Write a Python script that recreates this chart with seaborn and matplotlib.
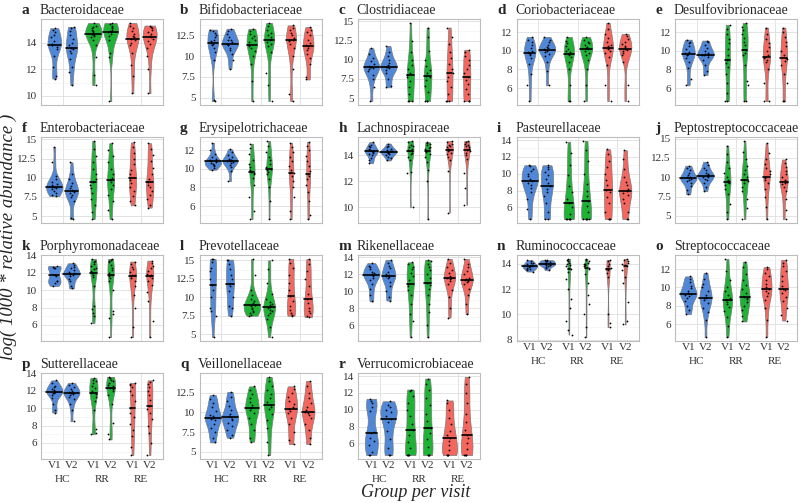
import numpy as np
import pandas as pd
import matplotlib
matplotlib.use("Agg")
import matplotlib.pyplot as plt
from matplotlib.ticker import MultipleLocator, AutoMinorLocator, FuncFormatter
import seaborn as sns

groups = ["HC", "RR", "RE"]
visits = ["V1", "V2"]
group_colors = {"HC": "#4f88d9", "RR": "#1fb336", "RE": "#f5665f"}

letters = list("abcdefghijklmnopqr")
families = ["Bacteroidaceae", "Bifidobacteriaceae", "Clostridiaceae", "Coriobacteriaceae",
            "Desulfovibrionaceae", "Enterobacteriaceae", "Erysipelotrichaceae", "Lachnospiraceae",
            "Pasteurellaceae", "Peptostreptococcaceae", "Porphyromonadaceae", "Prevotellaceae",
            "Rikenellaceae", "Ruminococcaceae", "Streptococcaceae", "Sutterellaceae",
            "Veillonellaceae", "Verrucomicrobiaceae"]
y_steps = [2, 2.5, 2.5, 2, 2, 2.5, 2, 2, 2, 2.5, 2, 2.5, 2, 2, 2, 2, 2.5, 2]

# each panel: HC V1, HC V2, RR V1, RR V2, RE V1, RE V2
bacteroidaceae = [
    [11.3, 11.5, 12.2, 13.0, 13.5, 13.7, 13.8, 13.85, 13.9, 14.1, 14.4, 14.6, 14.8, 15.0, 15.1],
    [10.8, 11.8, 12.2, 12.8, 13.2, 13.4, 13.5, 13.6, 13.8, 14.0, 14.3, 14.6, 14.9, 15.1, 15.2],
    [10.8, 11.6, 12.9, 13.8, 14.2, 14.4, 14.5, 14.6, 14.7, 14.7, 14.8, 14.9, 15.0, 15.1, 15.2, 15.3, 15.5],
    [9.6, 12.9, 13.2, 14.2, 14.5, 14.7, 14.8, 14.85, 14.9, 15.0, 15.1, 15.2, 15.3, 15.4, 15.5],
    [10.2, 11.5, 12.3, 13.2, 13.8, 14.0, 14.2, 14.3, 14.4, 14.5, 14.7, 14.9, 15.1, 15.3, 15.5],
    [10.2, 12.0, 13.0, 13.6, 13.9, 14.1, 14.3, 14.4, 14.5, 14.7, 14.8, 15.0, 15.1, 15.2, 15.3],
]
bifidobacteriaceae = [
    [4.6, 4.7, 9.5, 10.5, 11.0, 11.3, 11.5, 11.6, 11.8, 12.0, 12.3, 12.6, 12.8, 13.0, 13.2],
    [8.5, 9.5, 10.3, 10.8, 11.0, 11.3, 11.4, 11.5, 11.7, 11.9, 12.0, 12.3, 12.7, 13.0, 13.3],
    [4.6, 7.0, 9.0, 10.0, 10.6, 11.0, 11.2, 11.4, 11.7, 12.0, 12.2, 12.4, 12.7, 13.0, 13.3],
    [4.6, 6.5, 8.0, 10.5, 11.2, 11.5, 11.7, 11.9, 12.1, 12.3, 12.5, 12.8, 13.2, 13.6, 14.0],
    [4.6, 5.5, 8.5, 10.0, 11.0, 11.5, 11.8, 11.9, 12.0, 12.2, 12.5, 12.8, 13.1, 13.4, 13.7],
    [7.2, 7.5, 9.0, 9.8, 10.3, 10.8, 11.0, 11.2, 11.4, 11.6, 12.0, 12.5, 12.9, 13.2, 13.5],
]
clostridiaceae = [
    [4.6, 6.5, 7.5, 8.0, 8.5, 8.8, 8.9, 9.0, 9.1, 9.2, 9.5, 9.8, 10.2, 10.8, 11.5],
    [6.4, 6.6, 7.5, 8.2, 8.6, 8.9, 9.0, 9.1, 9.2, 9.3, 9.6, 10.0, 10.5, 11.0, 11.8],
    [4.6, 4.6, 4.6, 5.5, 6.5, 7.2, 7.8, 8.0, 8.3, 8.8, 9.3, 10.0, 11.0, 12.5, 14.8],
    [4.6, 4.6, 4.6, 5.8, 6.6, 7.3, 7.7, 7.9, 8.2, 8.7, 9.2, 10.0, 11.2, 13.0, 14.2],
    [4.6, 4.6, 4.6, 5.5, 6.5, 7.2, 7.8, 8.2, 8.8, 9.5, 10.2, 11.0, 12.0, 13.0, 14.2],
    [4.6, 4.6, 4.6, 5.5, 6.2, 6.8, 7.3, 7.7, 8.2, 8.8, 9.3, 9.9, 10.5, 11.0, 11.3],
]
coriobacteriaceae = [
    [4.6, 6.3, 7.5, 8.6, 9.2, 9.5, 9.7, 9.8, 9.9, 10.0, 10.3, 10.6, 10.9, 11.2, 11.5],
    [6.3, 7.8, 8.8, 9.4, 9.7, 9.9, 10.0, 10.1, 10.2, 10.3, 10.4, 10.6, 10.9, 11.2, 11.5],
    [4.6, 4.6, 6.3, 8.0, 8.8, 9.3, 9.5, 9.7, 9.9, 10.0, 10.2, 10.5, 10.8, 11.1, 11.5],
    [4.6, 6.3, 8.0, 9.0, 9.5, 9.8, 10.0, 10.2, 10.3, 10.4, 10.6, 10.8, 11.0, 11.2, 11.5],
    [4.6, 6.3, 8.5, 9.3, 9.8, 10.0, 10.2, 10.3, 10.5, 10.6, 11.0, 11.4, 11.8, 12.3, 13.0],
    [4.6, 6.3, 8.8, 9.5, 9.8, 10.0, 10.1, 10.2, 10.4, 10.5, 10.7, 11.0, 11.3, 11.6, 11.8],
]
desulfovibrionaceae = [
    [6.3, 7.0, 8.2, 8.8, 9.2, 9.5, 9.6, 9.7, 9.8, 9.9, 10.2, 10.5, 10.8, 11.0, 11.2],
    [7.4, 7.8, 8.5, 9.0, 9.3, 9.5, 9.55, 9.6, 9.7, 9.8, 10.0, 10.3, 10.6, 10.9, 11.1],
    [4.6, 4.6, 5.5, 6.5, 7.5, 8.3, 8.7, 9.0, 9.5, 10.2, 10.8, 11.3, 11.8, 12.3, 12.8],
    [4.6, 4.6, 6.3, 6.8, 8.5, 9.5, 9.8, 10.1, 10.6, 11.0, 11.4, 11.8, 12.2, 12.6, 13.0],
    [4.6, 4.6, 6.5, 8.0, 8.8, 9.0, 9.2, 9.3, 9.6, 10.0, 10.4, 10.8, 11.3, 11.8, 12.5],
    [4.6, 4.6, 6.5, 7.5, 8.5, 8.9, 9.1, 9.2, 9.6, 10.0, 10.5, 11.0, 11.5, 12.0, 12.5],
]
enterobacteriaceae = [
    [7.6, 7.8, 8.0, 8.3, 8.5, 8.7, 8.8, 8.8, 9.0, 9.2, 9.5, 9.8, 10.2, 12.0, 14.0],
    [4.6, 4.7, 7.0, 7.5, 7.8, 8.0, 8.1, 8.2, 8.4, 8.6, 8.9, 9.3, 9.8, 10.5, 12.0],
    [4.6, 5.5, 6.5, 7.2, 8.0, 8.6, 9.0, 9.4, 9.8, 10.5, 11.2, 12.0, 12.8, 13.8, 14.8],
    [4.6, 5.8, 7.0, 7.8, 8.5, 9.0, 9.4, 9.7, 10.0, 10.5, 11.2, 12.0, 12.8, 13.6, 14.5],
    [6.4, 7.0, 7.6, 8.2, 8.8, 9.3, 9.7, 10.0, 10.5, 11.0, 11.8, 12.5, 13.2, 14.0, 14.6],
    [6.1, 6.5, 7.2, 7.8, 8.3, 8.8, 9.1, 9.4, 9.8, 10.5, 11.3, 12.2, 13.0, 13.8, 14.5],
]
erysipelotrichaceae = [
    [9.9, 10.1, 10.3, 10.4, 10.5, 10.6, 10.7, 10.8, 10.8, 10.9, 11.1, 11.3, 11.6, 12.0, 12.8],
    [8.7, 9.8, 10.2, 10.4, 10.6, 10.7, 10.8, 10.85, 10.9, 11.0, 11.1, 11.3, 11.5, 11.8, 12.1],
    [4.6, 5.5, 7.0, 8.3, 9.0, 9.4, 9.6, 9.7, 9.9, 10.2, 10.5, 11.0, 11.6, 12.2, 12.7],
    [4.6, 6.5, 8.0, 8.9, 9.4, 9.7, 9.9, 10.0, 10.2, 10.5, 10.9, 11.3, 11.8, 12.4, 13.0],
    [4.6, 5.5, 7.0, 8.0, 8.7, 9.2, 9.5, 9.6, 9.9, 10.3, 10.8, 11.3, 11.8, 12.3, 12.8],
    [4.6, 5.0, 6.5, 7.5, 8.3, 8.9, 9.2, 9.4, 9.8, 10.3, 10.8, 11.4, 12.0, 12.5, 12.9],
]
lachnospiraceae = [
    [13.4, 13.6, 13.8, 14.0, 14.1, 14.2, 14.25, 14.3, 14.35, 14.4, 14.5, 14.6, 14.7, 14.8, 15.0],
    [13.6, 13.8, 13.9, 14.0, 14.1, 14.2, 14.22, 14.25, 14.3, 14.35, 14.4, 14.5, 14.6, 14.7, 14.9],
    [10.0, 12.6, 12.7, 13.6, 13.9, 14.1, 14.2, 14.3, 14.4, 14.5, 14.6, 14.7, 14.8, 15.0, 15.1],
    [9.1, 12.0, 12.9, 13.5, 13.9, 14.1, 14.25, 14.35, 14.45, 14.55, 14.65, 14.75, 14.85, 14.95, 15.0],
    [9.6, 12.8, 13.6, 13.9, 14.1, 14.2, 14.3, 14.4, 14.5, 14.6, 14.7, 14.8, 14.9, 15.0, 15.1],
    [10.2, 11.5, 12.6, 13.7, 14.0, 14.2, 14.3, 14.4, 14.5, 14.6, 14.7, 14.8, 14.9, 15.0, 15.1],
]
pasteurellaceae = [
    [4.6, 5.8, 7.0, 7.8, 8.3, 8.7, 8.9, 9.1, 9.4, 9.7, 10.0, 10.3, 10.6, 10.9, 11.0],
    [4.6, 4.6, 5.5, 6.5, 7.3, 7.8, 8.2, 8.5, 8.9, 9.4, 9.8, 10.2, 10.5, 10.8, 11.0],
    [4.6, 4.6, 4.6, 4.6, 4.6, 5.2, 6.0, 6.5, 7.0, 7.8, 8.5, 9.8, 11.0, 12.5, 13.8],
    [4.6, 4.6, 4.6, 4.6, 4.6, 5.5, 6.2, 6.8, 7.3, 8.0, 8.8, 10.0, 11.5, 12.8, 13.9],
    [4.6, 4.6, 4.6, 5.5, 6.5, 7.2, 7.8, 8.1, 8.6, 9.3, 10.0, 10.8, 11.5, 12.3, 12.9],
    [4.6, 4.6, 5.5, 6.5, 7.0, 7.5, 7.7, 7.9, 8.2, 8.6, 9.0, 9.6, 10.5, 11.8, 12.8],
]
peptostreptococcaceae = [
    [7.8, 8.3, 8.9, 9.3, 9.5, 9.7, 9.8, 9.9, 10.0, 10.1, 10.3, 10.6, 10.9, 11.2, 11.5],
    [8.2, 8.8, 9.3, 9.6, 9.8, 10.0, 10.1, 10.2, 10.3, 10.4, 10.6, 10.9, 11.2, 11.6, 12.0],
    [4.6, 5.5, 6.6, 7.8, 8.5, 9.0, 9.2, 9.4, 9.7, 10.1, 10.6, 11.2, 12.0, 13.0, 14.1],
    [4.6, 6.0, 7.2, 8.2, 8.8, 9.3, 9.5, 9.7, 10.0, 10.4, 10.9, 11.5, 12.3, 13.3, 14.7],
    [4.6, 6.2, 7.5, 8.5, 9.2, 9.7, 9.9, 10.1, 10.4, 10.8, 11.2, 11.7, 12.3, 13.2, 14.4],
    [4.6, 5.8, 7.2, 8.2, 8.8, 9.1, 9.3, 9.4, 9.7, 10.0, 10.4, 10.8, 11.3, 11.8, 12.3],
]
porphyromonadaceae = [
    [10.5, 10.8, 11.0, 11.1, 11.6, 11.8, 12.5, 12.6, 12.7, 12.8],
    [10.2, 10.5, 11.0, 11.3, 11.6, 11.8, 11.85, 11.9, 12.0, 12.1, 12.3, 12.5, 12.7, 12.9, 13.1],
    [6.2, 7.0, 7.4, 7.8, 8.2, 10.5, 11.5, 11.8, 12.0, 12.2, 12.4, 12.6, 12.8, 13.0, 13.2, 13.4, 13.6],
    [4.6, 6.8, 7.3, 7.6, 10.0, 11.0, 11.4, 11.6, 11.8, 12.0, 12.3, 12.6, 12.9, 13.2, 13.4, 13.5, 13.6],
    [4.6, 5.8, 8.0, 9.5, 10.5, 11.0, 11.4, 11.6, 11.7, 11.8, 12.1, 12.4, 12.7, 13.0, 13.3],
    [4.6, 6.5, 8.7, 9.8, 10.6, 11.1, 11.4, 11.6, 11.7, 11.9, 12.2, 12.5, 12.8, 13.1, 13.4],
]
prevotellaceae = [
    [4.6, 7.5, 8.2, 8.5, 10.0, 11.0, 11.6, 12.5, 13.5, 14.0, 14.8, 15.2, 15.2],
    [7.5, 8.5, 8.8, 10.0, 10.8, 11.5, 11.8, 12.5, 13.0, 13.8, 14.5, 15.0, 15.1],
    [7.5, 7.6, 7.8, 8.0, 8.2, 8.4, 8.6, 8.8, 8.9, 9.0, 9.2, 9.5, 9.8, 10.3, 11.0, 13.0, 15.2],
    [4.6, 6.0, 7.0, 7.6, 7.9, 8.1, 8.3, 8.5, 8.7, 8.9, 9.1, 9.4, 9.8, 10.5, 12.0, 13.8, 15.0],
    [7.5, 7.6, 7.9, 8.3, 8.8, 9.5, 10.2, 11.0, 12.0, 13.0, 14.0, 14.6, 15.2],
    [7.3, 7.5, 7.8, 8.2, 8.6, 9.2, 9.7, 10.5, 11.5, 12.5, 13.5, 14.5, 15.2],
]
rikenellaceae = [
    [8.8, 9.5, 10.3, 10.9, 11.3, 11.6, 11.8, 11.9, 12.0, 12.1, 12.3, 12.6, 12.8, 13.0, 13.3],
    [8.9, 9.3, 10.0, 10.6, 11.1, 11.5, 11.7, 11.8, 11.9, 12.0, 12.3, 12.7, 13.0, 13.3, 13.7],
    [4.6, 6.5, 7.3, 8.5, 9.5, 10.2, 10.6, 10.9, 11.3, 11.8, 12.2, 12.6, 12.9, 13.2, 13.4],
    [4.6, 6.0, 7.5, 8.5, 9.6, 10.3, 10.7, 11.0, 11.5, 12.0, 12.5, 12.9, 13.2, 13.5, 13.7],
    [6.9, 8.0, 9.3, 10.2, 10.8, 11.2, 11.4, 11.5, 11.6, 11.8, 12.1, 12.5, 12.9, 13.3, 13.8],
    [7.3, 8.5, 9.5, 10.3, 10.8, 11.1, 11.2, 11.3, 11.4, 11.6, 12.0, 12.4, 12.8, 13.2, 13.8],
]
ruminococcaceae = [
    [13.4, 13.5, 13.6, 13.6, 13.7, 13.75, 13.8, 13.85, 13.85, 13.9, 14.0, 14.05, 14.1, 14.2, 14.3],
    [13.5, 13.65, 13.75, 13.85, 13.9, 13.95, 13.95, 14.0, 14.05, 14.1, 14.15, 14.2, 14.25, 14.3, 14.3],
    [8.4, 8.8, 9.5, 10.5, 11.2, 12.0, 12.8, 13.4, 13.6, 13.7, 13.8, 13.9, 14.0, 14.1, 14.2, 14.3, 14.4],
    [8.2, 9.0, 10.0, 10.8, 11.5, 12.5, 13.2, 13.6, 13.7, 13.8, 13.9, 14.0, 14.0, 14.1, 14.2, 14.3, 14.4],
    [9.0, 9.3, 10.0, 13.0, 13.3, 13.5, 13.6, 13.6, 13.7, 13.8, 14.0, 14.2, 14.3],
    [9.2, 9.5, 11.0, 12.5, 13.0, 13.5, 13.8, 13.9, 14.0, 14.1, 14.2, 14.3, 14.4],
]
streptococcaceae = [
    [7.1, 7.5, 8.0, 8.5, 8.9, 9.1, 9.2, 9.3, 9.4, 9.6, 9.9, 10.2, 10.6, 10.9, 11.2],
    [4.6, 6.5, 7.3, 7.8, 8.3, 8.6, 8.8, 8.9, 9.0, 9.2, 9.6, 10.0, 10.4, 10.9, 11.6],
    [4.6, 5.8, 6.8, 7.4, 7.9, 8.2, 8.4, 8.6, 8.9, 9.2, 9.6, 10.1, 10.8, 11.8, 13.1],
    [6.3, 6.9, 7.5, 8.0, 8.4, 8.7, 8.9, 9.0, 9.4, 9.8, 10.3, 10.8, 11.5, 12.2, 12.8],
    [4.6, 6.5, 7.8, 8.6, 9.1, 9.4, 9.6, 9.8, 10.1, 10.4, 10.8, 11.2, 11.6, 12.0, 12.2],
    [6.4, 7.0, 7.8, 8.5, 9.0, 9.4, 9.7, 9.85, 10.2, 10.7, 11.2, 11.8, 12.3, 12.7, 13.0],
]
sutterellaceae = [
    [9.5, 9.8, 10.5, 11.2, 11.5, 11.7, 11.8, 11.9, 12.0, 12.1, 12.2, 12.4, 12.6, 12.9, 13.2],
    [8.5, 9.8, 10.5, 11.0, 11.3, 11.5, 11.6, 11.7, 11.8, 11.9, 12.0, 12.2, 12.4, 12.7, 12.9],
    [7.0, 7.2, 7.6, 9.8, 10.8, 11.3, 11.6, 11.8, 12.0, 12.3, 12.6, 12.9, 13.1, 13.3, 13.5],
    [6.4, 7.0, 8.3, 10.5, 11.5, 12.0, 12.2, 12.3, 12.5, 12.7, 12.9, 13.1, 13.3, 13.5, 13.6],
    [4.6, 5.5, 6.8, 7.5, 8.2, 9.0, 9.5, 10.0, 10.8, 11.5, 12.0, 12.4, 12.7, 12.8, 12.9],
    [4.6, 6.0, 7.2, 8.0, 8.8, 9.5, 9.9, 10.2, 10.9, 11.5, 12.0, 12.4, 12.8, 13.0, 13.2],
]
veillonellaceae = [
    [6.2, 6.8, 7.5, 8.0, 8.6, 9.0, 9.2, 9.3, 9.5, 9.7, 10.2, 10.7, 11.2, 11.7, 12.2],
    [6.8, 7.2, 7.8, 8.3, 8.7, 9.0, 9.2, 9.4, 9.6, 9.8, 10.3, 10.8, 11.4, 12.0, 12.6],
    [6.3, 6.8, 7.8, 8.6, 9.3, 9.9, 10.3, 10.5, 10.7, 10.9, 11.3, 11.8, 12.3, 12.8, 13.3],
    [4.6, 6.3, 8.0, 9.0, 9.8, 10.4, 10.7, 10.9, 11.3, 11.8, 12.3, 12.8, 13.4, 14.0, 14.5],
    [6.0, 6.5, 7.5, 8.5, 9.3, 9.9, 10.2, 10.4, 10.7, 11.1, 11.5, 12.0, 12.5, 13.0, 13.3],
    [6.0, 6.8, 7.8, 8.6, 9.3, 9.7, 9.9, 10.0, 10.3, 10.7, 11.2, 11.8, 12.5, 13.3, 14.0],
]
verrucomicrobiaceae = [
    [4.6, 4.6, 5.0, 5.8, 6.3, 6.6, 7.2, 7.4, 9.8, 10.3, 10.8, 11.0, 11.3],
    [4.6, 4.6, 5.5, 6.5, 7.5, 8.5, 8.9, 9.3, 9.7, 10.0, 10.3, 10.6, 11.0],
    [4.6, 4.6, 4.6, 4.6, 5.5, 6.2, 7.0, 7.6, 8.3, 9.2, 10.0, 10.8, 11.6, 12.2, 12.4],
    [4.6, 4.6, 4.6, 4.6, 5.6, 6.5, 7.2, 7.8, 8.6, 9.5, 10.5, 11.4, 12.3, 13.0, 13.7],
    [4.6, 4.6, 4.6, 4.6, 5.2, 5.8, 6.3, 6.6, 7.0, 7.5, 8.3, 9.0, 10.0, 10.8, 11.1],
    [4.6, 4.6, 4.6, 4.6, 5.3, 6.0, 6.6, 7.0, 7.6, 8.5, 9.5, 10.8, 12.0, 13.0, 13.9],
]

panels = [bacteroidaceae, bifidobacteriaceae, clostridiaceae, coriobacteriaceae,
          desulfovibrionaceae, enterobacteriaceae, erysipelotrichaceae, lachnospiraceae,
          pasteurellaceae, peptostreptococcaceae, porphyromonadaceae, prevotellaceae,
          rikenellaceae, ruminococcaceae, streptococcaceae, sutterellaceae,
          veillonellaceae, verrucomicrobiaceae]

with_xlabels = {"n", "o", "p", "q", "r"}
dodge_off = 0.22


def to_long(values):
    rows = []
    for k, vals in enumerate(values):
        for y in vals:
            rows.append((groups[k // 2], visits[k % 2], y))
    df = pd.DataFrame(rows, columns=["group", "visit", "abundance"])
    df["pos"] = (df["group"].map({g: i for i, g in enumerate(groups)})
                 + df["visit"].map({"V1": -dodge_off, "V2": dodge_off}))
    return df


sns.set_style("white")
plt.rcParams["font.family"] = "serif"
plt.rcParams["font.serif"] = ["Liberation Serif", "Times New Roman", "DejaVu Serif"]
np.random.seed(3)

fig = plt.figure(figsize=(8, 5.03), dpi=100)
W, H = 800, 503
row_tops = [19, 137, 255, 373]
ax_w, ax_h = 122, 86

for idx, (letter, name, values) in enumerate(zip(letters, families, panels)):
    r, c = divmod(idx, 5)
    left = 41 + c * 158.5
    ax = fig.add_axes([left / W, 1 - (row_tops[r] + ax_h) / H, ax_w / W, ax_h / H])
    df = to_long(values)

    sns.violinplot(data=df, x="pos", y="abundance", hue="group", palette=group_colors,
                   saturation=1, native_scale=True, dodge=False, width=0.95,
                   density_norm="area", common_norm=True, cut=0, bw_adjust=0.8,
                   inner="quart", linewidth=0.5, linecolor="#7a7a7a", legend=False, ax=ax)
    # keep only the median line, solid
    for i, line in enumerate(ax.lines):
        if i % 3 == 1:
            line.set_linestyle("-")
            line.set_color("black")
            line.set_linewidth(1.2)
        else:
            line.set_visible(False)

    sns.stripplot(data=df, x="pos", y="abundance", native_scale=True, color="black",
                  size=1.3, jitter=0.18, ax=ax, zorder=3)

    ax.set_xlim(-0.56, 2.56)
    ax.margins(y=0.05)
    ax.yaxis.set_major_locator(MultipleLocator(y_steps[idx]))
    ax.yaxis.set_major_formatter(FuncFormatter(lambda v, p: f"{v:g}"))
    ax.yaxis.set_minor_locator(AutoMinorLocator(2))

    ax.set_xticks([0, 1, 2])
    ax.set_xticks([g + d for g in range(3) for d in (-dodge_off, dodge_off)], minor=True)
    if letter in with_xlabels:
        ax.set_xticklabels(groups)
        ax.set_xticklabels(visits * 3, minor=True)
    else:
        ax.set_xticklabels([])
        ax.set_xticklabels([], minor=True)

    ax.set_axisbelow(True)
    ax.grid(which="major", color="#dedede", linewidth=0.6)
    ax.grid(which="minor", axis="y", color="#efefef", linewidth=0.4)
    ax.xaxis.grid(False, which="minor")
    for sp in ax.spines.values():
        sp.set_color("#bdbdbd")
        sp.set_linewidth(0.8)
    ax.tick_params(axis="y", which="major", labelsize=8, colors="#b3b3b3",
                   labelcolor="#333333", length=2, pad=1)
    ax.tick_params(axis="y", which="minor", length=0)
    ax.tick_params(axis="x", which="major", labelsize=8, colors="#b3b3b3",
                   labelcolor="#333333", length=2, pad=9.5)
    ax.tick_params(axis="x", which="minor", labelsize=8, labelcolor="#333333",
                   length=0, pad=1.5)
    ax.set_xlabel("")
    ax.set_ylabel("")

    ax.text(-0.16, 1.06, letter, transform=ax.transAxes, ha="left", va="baseline",
            fontsize=11, fontweight="bold")
    ax.text(-0.01, 1.06, name, transform=ax.transAxes, ha="left", va="baseline",
            fontsize=10)

fig.text(0.011, 0.53, "log( 1000 * relative abundance )", rotation=90, ha="center",
         va="center", fontsize=13.5, style="italic")
fig.text(0.52, 0.021, "Group per visit", ha="center", va="center", fontsize=13,
         style="italic")

fig.savefig("out.png", dpi=100, facecolor="white")
